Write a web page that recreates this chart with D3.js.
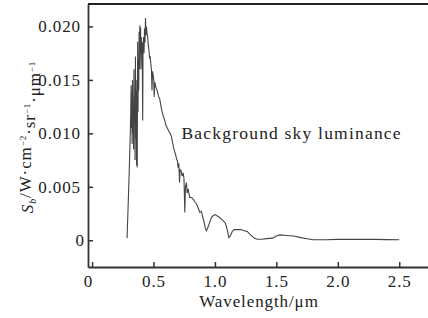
<!DOCTYPE html>
<html>
<head>
<meta charset="utf-8">
<script src="https://cdn.jsdelivr.net/npm/d3@7"></script>
<style>
  body { margin: 0; background: #fff; }
  svg text { font-family: "Liberation Serif", serif; fill: #222; }
</style>
</head>
<body>
<div class="chart"></div>
<script>
// data
const wavelength = [
    0.285, 0.300, 0.310, 0.315, 0.318, 0.320, 0.323, 0.326, 0.329, 0.332,
    0.335, 0.338, 0.341, 0.344, 0.347, 0.350, 0.353, 0.356, 0.359, 0.362,
    0.365, 0.368, 0.371, 0.374, 0.377, 0.380, 0.383, 0.386, 0.389, 0.392,
    0.395, 0.398, 0.401, 0.404, 0.408, 0.412, 0.415, 0.419, 0.423, 0.427,
    0.431, 0.435, 0.439, 0.443, 0.448, 0.453, 0.458, 0.463, 0.468, 0.473,
    0.478, 0.483, 0.488, 0.492, 0.497, 0.502, 0.506, 0.510, 0.520, 0.530,
    0.540, 0.551, 0.560, 0.570, 0.580, 0.592, 0.600, 0.612, 0.625, 0.635,
    0.646, 0.656, 0.665, 0.672, 0.680, 0.688, 0.695, 0.700, 0.706, 0.712,
    0.716, 0.725, 0.733, 0.741, 0.748, 0.755, 0.760, 0.768, 0.774, 0.782,
    0.795, 0.810, 0.825, 0.836, 0.850, 0.865, 0.877, 0.890, 0.900, 0.910,
    0.920, 0.930, 0.940, 0.955, 0.970, 0.985, 1.000, 1.030, 1.060, 1.085,
    1.100, 1.113, 1.125, 1.140, 1.155, 1.180, 1.210, 1.240, 1.265, 1.290,
    1.320, 1.345, 1.380, 1.420, 1.470, 1.500, 1.530, 1.580, 1.640, 1.700,
    1.750, 1.800, 1.900, 2.000, 2.100, 2.200, 2.300, 2.400, 2.500
];
const luminance = [
    0.0002, 0.0055, 0.0095, 0.0120, 0.0145, 0.0105, 0.0138, 0.0090, 0.0150, 0.0100,
    0.0128, 0.0085, 0.0160, 0.0110, 0.0135, 0.0075, 0.0172, 0.0095, 0.0140, 0.0070,
    0.0150, 0.0068, 0.0186, 0.0120, 0.0170, 0.0140, 0.0195, 0.0160, 0.0201, 0.0175,
    0.0199, 0.0160, 0.0190, 0.0175, 0.0185, 0.0112, 0.0180, 0.0190, 0.0175, 0.0198,
    0.0185, 0.0208, 0.0192, 0.0200, 0.0193, 0.0190, 0.0182, 0.0178, 0.0170, 0.0172,
    0.0165, 0.0160, 0.0140, 0.0158, 0.0155, 0.0150, 0.0134, 0.0148, 0.0143, 0.0140,
    0.0135, 0.0132, 0.0126, 0.0120, 0.0116, 0.0112, 0.0108, 0.0105, 0.0102, 0.0100,
    0.0097, 0.0091, 0.0086, 0.0083, 0.0080, 0.0076, 0.0074, 0.0068, 0.0072, 0.0054,
    0.0066, 0.0065, 0.0060, 0.0063, 0.0058, 0.0026, 0.0050, 0.0054, 0.0044, 0.0048,
    0.0040, 0.0040, 0.0038, 0.0036, 0.0034, 0.0030, 0.0026, 0.0027, 0.0022, 0.0018,
    0.0012, 0.0009, 0.0011, 0.0016, 0.0021, 0.0023, 0.0024, 0.0022, 0.0019, 0.0016,
    0.0010, 0.00025, 0.0004, 0.0008, 0.0010, 0.0010, 0.0010, 0.0009, 0.0008, 0.0005,
    0.0002, 0.0001, 0.0001, 0.00015, 0.0002, 0.0004, 0.0005, 0.00045, 0.0004, 0.00025,
    0.00015, 0.00005, 0.00005, 0.00008, 0.00008, 0.00008, 0.00008, 0.00006, 0.00005
];
const xTicks = [0, 0.5, 1.0, 1.5, 2.0, 2.5];
const yTicks = [0, 0.005, 0.010, 0.015, 0.020];
const seriesLabel = 'Background sky luminance';

const series = wavelength.map((w, i) => ({ w: w, v: luminance[i] }));

const W = 428, H = 318;
const margin = { top: 4, right: 0, bottom: 51, left: 88 };
const width = W - margin.left - margin.right;
const height = H - margin.top - margin.bottom;
const serif = '"Liberation Serif", serif';

const xScale = d3.scaleLinear().domain([-0.033, 2.734]).range([0, width]);
const yScale = d3.scaleLinear().domain([-0.0025, 0.0221]).range([height, 0]);

const svg = d3.select('.chart')
    .append('svg')
    .attr('width', W)
    .attr('height', H)
    .append('g')
    .attr('transform', `translate(${margin.left}, ${margin.top})`);

// curve
const line = d3.line().x(d => xScale(d.w)).y(d => yScale(d.v));
svg.append('path')
    .datum(series)
    .attr('d', line)
    .attr('fill', 'none')
    .attr('stroke', '#444')
    .attr('stroke-width', 1.1);

// axes, ticks point inward
const xAxis = d3.axisBottom(xScale)
    .tickValues(xTicks)
    .tickFormat(d => d === 0 ? '0' : d3.format('.1f')(d))
    .tickSizeInner(-5)
    .tickSizeOuter(0)
    .tickPadding(8);

const yAxis = d3.axisLeft(yScale)
    .tickValues(yTicks)
    .tickFormat(d => d === 0 ? '0' : d3.format('.3f')(d))
    .tickSizeInner(-5)
    .tickSizeOuter(0)
    .tickPadding(7);

const xAxisDraw = svg.append('g')
    .attr('transform', `translate(0, ${height})`)
    .call(xAxis);

const yAxisDraw = svg.append('g').call(yAxis);

[xAxisDraw, yAxisDraw].forEach(a => {
    a.attr('font-family', serif).attr('font-size', 17);
    a.select('.domain').attr('stroke', '#333').attr('stroke-width', 1.8);
    a.selectAll('.tick line').attr('stroke', '#333').attr('stroke-width', 1.5);
    a.selectAll('.tick text')
        .attr('fill', '#222')
        .style('font-size', '17px')
        .style('letter-spacing', '0.9px')
        .style('font-family', serif);
});

// the "0" on the y axis sits a little closer to the axis
yAxisDraw.selectAll('.tick text').filter(d => d === 0).attr('dx', '4');
xAxisDraw.selectAll('.tick text').filter(d => d === 0).attr('dx', '-4');

// top frame line
svg.append('line')
    .attr('x1', 0).attr('x2', width)
    .attr('y1', 0).attr('y2', 0)
    .attr('stroke', '#222')
    .attr('stroke-width', 2);

// series annotation
svg.append('text')
    .attr('x', 181.5 - margin.left)
    .attr('y', 139 - margin.top)
    .style('font-size', '17.5px')
    .style('letter-spacing', '1.2px')
    .text(seriesLabel);

// x label
svg.append('text')
    .attr('x', 259 - margin.left)
    .attr('y', 306.5 - margin.top)
    .attr('text-anchor', 'middle')
    .style('font-size', '17px')
    .style('letter-spacing', '0.9px')
    .text('Wavelength/μm');

// y label
const yLabel = svg.append('text')
    .attr('transform', `translate(${33 - margin.left}, ${137 - margin.top}) rotate(-90)`)
    .attr('text-anchor', 'middle')
    .style('font-size', '17px')
    .style('letter-spacing', '0.9px');

yLabel.append('tspan').style('font-style', 'italic').text('S');
yLabel.append('tspan').attr('dy', '0.3em').style('font-size', '10px').style('font-style', 'italic').text('b');
yLabel.append('tspan').attr('dy', '-0.3em').text('/W·cm');
yLabel.append('tspan').attr('dy', '-0.55em').style('font-size', '9px').text('−2');
yLabel.append('tspan').attr('dy', '0.55em').text('·sr');
yLabel.append('tspan').attr('dy', '-0.55em').style('font-size', '9px').text('−1');
yLabel.append('tspan').attr('dy', '0.55em').text('·μm');
yLabel.append('tspan').attr('dy', '-0.55em').style('font-size', '9px').text('−1');
</script>
</body>
</html>
